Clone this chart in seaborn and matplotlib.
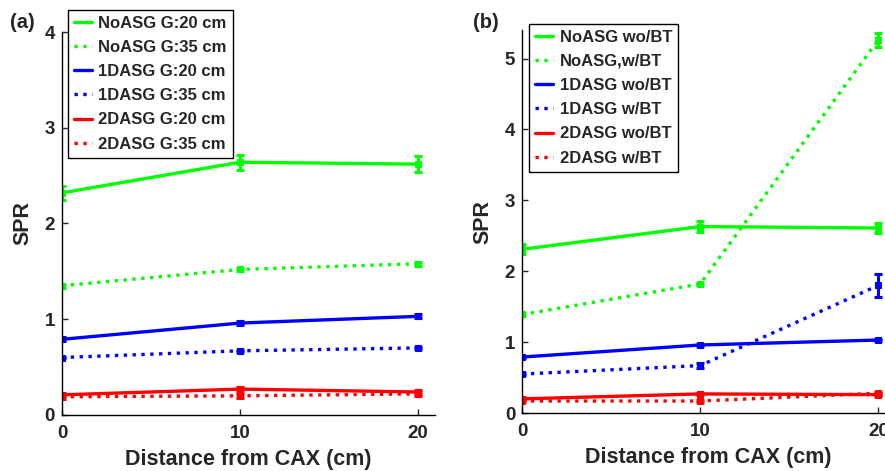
import matplotlib
matplotlib.use("Agg")
import matplotlib.pyplot as plt
import seaborn as sns
import pandas as pd

# ---- data ----
distance = [0, 10, 20]

a_labels = ["NoASG G:20 cm", "NoASG G:35 cm", "1DASG G:20 cm",
            "1DASG G:35 cm", "2DASG G:20 cm", "2DASG G:35 cm"]
a_noasg_20 = [2.32, 2.64, 2.62]
a_noasg_20_err = [0.07, 0.08, 0.08]
a_noasg_35 = [1.35, 1.52, 1.58]
a_noasg_35_err = [0.02, 0.02, 0.02]
a_1dasg_20 = [0.79, 0.96, 1.03]
a_1dasg_20_err = [0.02, 0.02, 0.02]
a_1dasg_35 = [0.60, 0.67, 0.70]
a_1dasg_35_err = [0.01, 0.01, 0.01]
a_2dasg_20 = [0.21, 0.27, 0.24]
a_2dasg_20_err = [0.02, 0.02, 0.02]
a_2dasg_35 = [0.19, 0.20, 0.22]
a_2dasg_35_err = [0.02, 0.02, 0.02]

b_labels = ["NoASG wo/BT", "NoASG,w/BT", "1DASG wo/BT",
            "1DASG w/BT", "2DASG wo/BT", "2DASG w/BT"]
b_noasg_wo = [2.31, 2.63, 2.61]
b_noasg_wo_err = [0.07, 0.08, 0.07]
b_noasg_w = [1.39, 1.82, 5.26]
b_noasg_w_err = [0.02, 0.02, 0.10]
b_1dasg_wo = [0.79, 0.96, 1.03]
b_1dasg_wo_err = [0.02, 0.02, 0.02]
b_1dasg_w = [0.55, 0.67, 1.80]
b_1dasg_w_err = [0.02, 0.03, 0.16]
b_2dasg_wo = [0.20, 0.27, 0.26]
b_2dasg_wo_err = [0.02, 0.02, 0.02]
b_2dasg_w = [0.17, 0.17, 0.28]
b_2dasg_w_err = [0.02, 0.02, 0.02]

colors = ["#00ff00", "#00ff00", "#0000ff", "#0000ff", "#ff0000", "#ff0000"]
styles = ["-", ":", "-", ":", "-", ":"]

sns.set_theme(style="white")
plt.rcParams["font.family"] = ["Liberation Sans", "DejaVu Sans"]
plt.rcParams["font.weight"] = "bold"

fig = plt.figure(figsize=(8.85, 4.71), dpi=100)
ax_a = fig.add_axes([0.070, 0.119, 0.4215, 0.813])
ax_b = fig.add_axes([0.590, 0.123, 0.4215, 0.813])


def draw(ax, labels, series, errs, ylim, yticks):
    handles = []
    for lab, ys, es, c, ls in zip(labels, series, errs, colors, styles):
        df = pd.DataFrame({"x": distance, "y": ys})
        sns.lineplot(data=df, x="x", y="y", ax=ax, color=c, linestyle=ls,
                     linewidth=2.4, marker="s", markersize=4.5,
                     markeredgecolor=c, label=lab, legend=False)
        ax.errorbar(distance, ys, yerr=es, fmt="none", ecolor=c,
                    elinewidth=2.2, capsize=3, capthick=2.2)
        handles.append(plt.Line2D([], [], color=c, linestyle=ls, linewidth=2.4))
    ax.set_xlim(0, 20.95)
    ax.set_ylim(*ylim)
    ax.set_xticks([0, 10, 20])
    ax.set_yticks(yticks)
    ax.tick_params(direction="in", length=4, width=1, labelsize=13.5,
                   left=True, bottom=True, pad=5)
    ax.tick_params(axis="x", pad=7)
    for t in ax.get_xticklabels() + ax.get_yticklabels():
        t.set_fontweight("bold")
    for s in ["top", "right"]:
        ax.spines[s].set_visible(False)
    for s in ["left", "bottom"]:
        ax.spines[s].set_color("black")
        ax.spines[s].set_linewidth(1)
    ax.set_xlabel("Distance from CAX (cm)", fontsize=15.5, fontweight="bold",
                  labelpad=5)
    ax.set_ylabel("SPR", fontsize=15.5, fontweight="bold", labelpad=8)
    return handles


h_a = draw(ax_a, a_labels,
           [a_noasg_20, a_noasg_35, a_1dasg_20, a_1dasg_35, a_2dasg_20, a_2dasg_35],
           [a_noasg_20_err, a_noasg_35_err, a_1dasg_20_err, a_1dasg_35_err,
            a_2dasg_20_err, a_2dasg_35_err],
           (0, 4.0), [0, 1, 2, 3, 4])
h_b = draw(ax_b, b_labels,
           [b_noasg_wo, b_noasg_w, b_1dasg_wo, b_1dasg_w, b_2dasg_wo, b_2dasg_w],
           [b_noasg_wo_err, b_noasg_w_err, b_1dasg_wo_err, b_1dasg_w_err,
            b_2dasg_wo_err, b_2dasg_w_err],
           (0, 5.4), [0, 1, 2, 3, 4, 5])

leg_kw = dict(prop={"weight": "bold", "size": 12}, frameon=True,
              fancybox=False, edgecolor="black", handlelength=1.1,
              handletextpad=0.38, labelspacing=0.55, borderpad=0.35,
              borderaxespad=0)
la = ax_a.legend(h_a, a_labels, loc="upper left",
                 bbox_to_anchor=(68 / 885, 1 - 10 / 471),
                 bbox_transform=fig.transFigure, **leg_kw)
lb = ax_b.legend(h_b, b_labels, loc="upper left",
                 bbox_to_anchor=(529 / 885, 1 - 24 / 471),
                 bbox_transform=fig.transFigure, **leg_kw)
for lg in (la, lb):
    lg.get_frame().set_linewidth(1)
    lg.get_frame().set_alpha(1)

fig.text(10 / 885, 1 - 23 / 471, "(a)", fontsize=14.5, fontweight="bold",
         va="center", ha="left")
fig.text(473 / 885, 1 - 22 / 471, "(b)", fontsize=14.5, fontweight="bold",
         va="center", ha="left")

fig.savefig("out.png", dpi=100)
